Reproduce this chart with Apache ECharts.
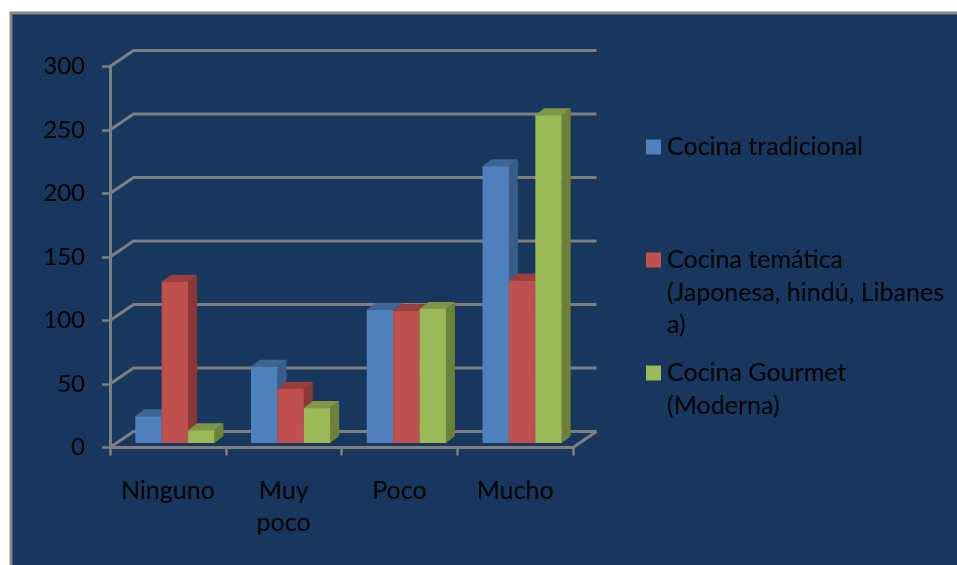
<!DOCTYPE html>
<html>
<head>
<meta charset="utf-8">
<style>html,body{margin:0;padding:0;background:#fff;overflow:hidden}#c{width:957px;height:565px}</style>
<script src="https://cdn.jsdelivr.net/npm/echarts@6/dist/echarts.min.js"></script>
</head>
<body>
<div id="c"></div>
<script>
const categories = ['Ninguno', 'Muy\npoco', 'Poco', 'Mucho'];
const tickValues = [0, 50, 100, 150, 200, 250, 300];
const tradicional = [21, 60, 105, 218];
const tematica = [127, 42.5, 104, 128];
const gourmet = [10, 27.5, 105.5, 258];
const seriesNames = ['Cocina tradicional', 'Cocina temática (Japonesa, hindú, Libanesa)', 'Cocina Gourmet (Moderna)'];
const legendLines = [['Cocina tradicional'], ['', '', 'Cocina temática', '(Japonesa, hindú, Libanes', 'a)'], ['', 'Cocina Gourmet', '(Moderna)']];
const legendCenters = [147, 260, 373];
const palette = [
  {front: '#4F81BD', side: '#385D8A', top: '#3F6594'},
  {front: '#C0504D', side: '#8A3836', top: '#9C3E3B'},
  {front: '#9BBB59', side: '#6C8238', top: '#7D9746'}
];

const FONT = 'Lato';
const LINE = 32.5;
const WALL = [23.5, -16];
const BASE = [7, -4.5];
const DEPTH = [9, -7];
const BAR_RATIO = 0.228;
const GRID_COLOR = '#7F7F7F';

function wallItem(params, api) {
  const cs = params.coordSys;
  const y = api.coord([0, api.value(1)])[1];
  const x0 = cs.x, x1 = cs.x + cs.width;
  const children = [{
    type: 'polyline',
    shape: {points: [[x0, y], [x0 + WALL[0], y + WALL[1]], [x1 + WALL[0], y + WALL[1]]]},
    style: {stroke: GRID_COLOR, lineWidth: 3, fill: null}
  }];
  if (api.value(1) === 0) {
    children.push({
      type: 'polyline',
      shape: {points: [[x1, y], [x1 + WALL[0], y + WALL[1]]]},
      style: {stroke: GRID_COLOR, lineWidth: 3, fill: null}
    });
  }
  return {type: 'group', children};
}

function barRenderer(idx) {
  return function (params, api) {
    const c = palette[idx];
    const bottom = api.coord([api.value(0), 0]);
    const top = api.coord([api.value(0), api.value(1)]);
    const band = api.size([1, 0])[0];
    const w = band * BAR_RATIO;
    const x0 = bottom[0] + (idx - 1.5) * w + BASE[0];
    const x1 = x0 + w;
    const yB = bottom[1] + BASE[1];
    const yT = top[1] + BASE[1];
    const dx = DEPTH[0], dy = DEPTH[1];
    return {
      type: 'group',
      children: [
        {type: 'polygon', shape: {points: [[x1, yT], [x1 + dx, yT + dy], [x1 + dx, yB + dy], [x1, yB]]}, style: {fill: c.side}},
        {type: 'polygon', shape: {points: [[x0, yT], [x0 + dx, yT + dy], [x1 + dx, yT + dy], [x1, yT]]}, style: {fill: c.top}},
        {type: 'rect', shape: {x: x0, y: yT, width: w, height: yB - yT}, style: {fill: c.front}}
      ]
    };
  };
}

function barSeries(idx, values) {
  return {
    type: 'custom',
    name: seriesNames[idx],
    coordinateSystem: 'cartesian2d',
    renderItem: barRenderer(idx),
    clip: false,
    z: 4,
    itemStyle: {color: palette[idx].front},
    encode: {x: 0, y: 1},
    data: values.map((v, i) => [i, v])
  };
}

const legends = seriesNames.map((name, i) => ({
  data: [name],
  left: 646,
  top: legendCenters[i] - legendLines[i].length * LINE / 2,
  icon: 'rect',
  itemWidth: 15,
  itemHeight: 15,
  itemGap: 0,
  padding: 0,
  selectedMode: false,
  formatter: () => legendLines[i].join('\n'),
  textStyle: {fontFamily: FONT, fontSize: 25, color: '#000', lineHeight: LINE, padding: [0, 0, 0, 1]}
}));

const chart = echarts.init(document.getElementById('c'), null, {renderer: 'canvas'});
chart.setOption({
  animation: false,
  backgroundColor: '#fff',
  graphic: [{
    type: 'rect', silent: true, z: -10,
    shape: {x: 11, y: 13, width: 960, height: 570},
    style: {fill: '#17375E', stroke: '#868686', lineWidth: 3}
  }],
  grid: {left: 110, right: 384, top: 66.5, bottom: 117.5},
  legend: legends,
  xAxis: {
    type: 'category',
    data: categories,
    axisLine: {lineStyle: {color: GRID_COLOR, width: 3}},
    axisTick: {show: true, length: 8, lineStyle: {color: GRID_COLOR, width: 2.5}},
    axisLabel: {fontFamily: FONT, fontSize: 25, color: '#000', lineHeight: LINE, margin: 27, interval: 0}
  },
  yAxis: {
    type: 'value',
    min: 0,
    max: 300,
    interval: 50,
    axisLine: {show: true, lineStyle: {color: GRID_COLOR, width: 3}},
    axisTick: {show: true, length: 8, lineStyle: {color: GRID_COLOR, width: 2.5}},
    splitLine: {show: false},
    axisLabel: {fontFamily: FONT, fontSize: 24, color: '#000', margin: 25}
  },
  series: [
    {
      type: 'custom',
      name: 'Paredes',
      coordinateSystem: 'cartesian2d',
      renderItem: wallItem,
      clip: false,
      z: 1,
      encode: {x: 0, y: 1},
      data: tickValues.map(v => [0, v])
    },
    barSeries(0, tradicional),
    barSeries(1, tematica),
    barSeries(2, gourmet)
  ]
});
</script>
</body>
</html>
